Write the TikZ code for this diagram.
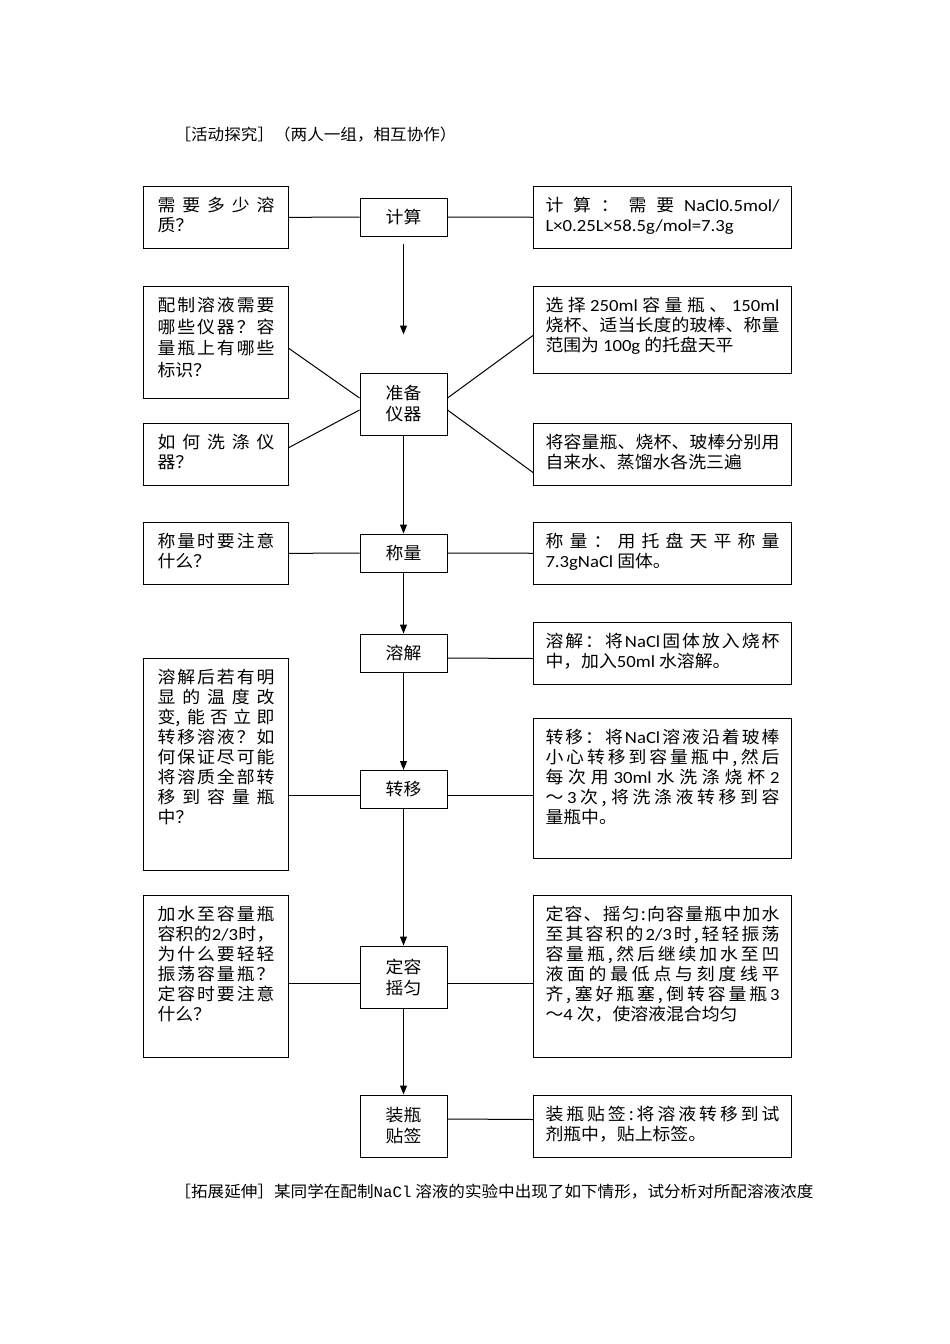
\documentclass[tikz,border=0pt]{standalone}
\usepackage{fontspec}
\setmainfont{Noto Sans CJK SC}[FakeStretch=1.05]
\newfontfamily\latfont{Carlito}[FakeStretch=1.1]
\newfontfamily\monofont{Liberation Mono}
\usetikzlibrary{arrows.meta,calc}

\newcommand\lat[1]{{\latfont #1}}
\newcommand\jl[1]{\makebox[\linewidth][s]{\spaceskip=0pt plus 1fil\relax\xspaceskip=\spaceskip\relax #1}}
\newcommand\boxtext[3]{\parbox[c][#1][t]{#2}{\rule{0pt}{14pt}#3}}

\begin{document}
\begin{tikzpicture}[x=1pt, y=-1pt, >={Triangle[length=9pt,width=7pt]},
        stepbox/.style={draw, line width=1pt, minimum width=87pt, align=center, inner sep=0pt, font=\fontsize{17}{21}\selectfont},
        qbox/.style={draw, line width=1pt, anchor=north west, inner xsep=14pt, inner ysep=11pt, font=\fontsize{17}{20}\selectfont},
        abox/.style={qbox, inner xsep=12pt},
        link/.style={line width=1pt}]
        \useasboundingbox (0,0) rectangle (950,1344);

        % Heading and footer
        \node[anchor=west, font=\fontsize{15.8}{18}\selectfont] (title) at (171,135) {［活动探究］（两人一组，相互协作）};
        \node[anchor=west, font=\fontsize{15.8}{18}\selectfont] (extend) at (171,1192) {［拓展延伸］某同学在配制{\monofont NaCl} 溶液的实验中出现了如下情形，试分析对所配溶液浓度};

        % Steps
        \node[stepbox, minimum height=38pt] (calc) at (403.5,217) {计算};
        \node[stepbox, minimum height=62pt] (prep) at (403.5,404) {准备\\仪器};
        \node[stepbox, minimum height=38pt] (weigh) at (403.5,553) {称量};
        \node[stepbox, minimum height=38pt] (dissolve) at (403.5,653) {溶解};
        \node[stepbox, minimum height=38pt] (move) at (403.5,789.5) {转移};
        \node[stepbox, minimum height=62pt] (fix) at (403.5,977) {定容\\摇匀};
        \node[stepbox, minimum height=62pt] (bottle) at (403.5,1126) {装瓶\\贴签};

        % Questions
        \node[qbox] (qcalc) at (143,186) {\boxtext{40pt}{117pt}{\jl{需 要 多 少 溶}\\质？}};
        \node[qbox] (qprep) at (143,286) {\boxtext{90pt}{117pt}{\fontsize{17}{21.5}\selectfont\jl{配 制 溶 液 需 要}\\\jl{哪 些 仪 器 ？ 容}\\\jl{量 瓶 上 有 哪 些}\\标识？}};
        \node[qbox] (qwash) at (143,423) {\boxtext{40pt}{117pt}{\jl{如 何 洗 涤 仪}\\器？}};
        \node[qbox] (qweigh) at (143,522) {\boxtext{40pt}{117pt}{\jl{称 量 时 要 注 意}\\什么？}};
        \node[qbox] (qmove) at (143,658) {\boxtext{190pt}{117pt}{\jl{溶 解 后 若 有 明}\\\jl{显 的 温 度 改}\\\jl{变, 能 否 立 即}\\\jl{转 移 溶 液 ？ 如}\\\jl{何 保 证 尽 可 能}\\\jl{将 溶 质 全 部 转}\\\jl{移 到 容 量 瓶}\\中？}};
        \node[qbox] (qfix) at (143,895) {\boxtext{140pt}{117pt}{\jl{加 水 至 容 量 瓶}\\\jl{容 积 的 \lat{2/3} 时 ，}\\\jl{为 什 么 要 轻 轻}\\\jl{振 荡 容 量 瓶 ？}\\\jl{定 容 时 要 注 意}\\什么？}};

        % Answers
        \node[abox] (acalc) at (533,186) {\boxtext{40pt}{234pt}{\jl{计 算 ： 需 要 \lat{NaCl0.5mol/}}\\\lat{L×0.25L×58.5g/mol=7.3g}}};
        \node[abox] (aprep) at (533,286) {\boxtext{65pt}{234pt}{\jl{选 择 \lat{250ml} 容 量 瓶 、 \lat{150ml}}\\\jl{烧 杯 、 适 当 长 度 的 玻 棒 、 称 量}\\范围为 \lat{100g} 的托盘天平}};
        \node[abox] (awash) at (533,423) {\boxtext{40pt}{234pt}{\jl{将 容 量 瓶 、 烧 杯 、 玻 棒 分 别 用}\\自来水、蒸馏水各洗三遍}};
        \node[abox] (aweigh) at (533,522) {\boxtext{40pt}{234pt}{\jl{称 量 ： 用 托 盘 天 平 称 量}\\\lat{7.3gNaCl} 固体。}};
        \node[abox] (adissolve) at (533,622) {\boxtext{40pt}{234pt}{\jl{溶 解 ： 将 \lat{NaCl} 固 体 放 入 烧 杯}\\中，加入\lat{50ml} 水溶解。}};
        \node[abox] (amove) at (533,718) {\boxtext{118pt}{234pt}{\jl{转 移 ： 将 \lat{NaCl} 溶 液 沿 着 玻 棒}\\\jl{小 心 转 移 到 容 量 瓶 中 , 然 后}\\\jl{每 次 用 \lat{30ml} 水 洗 涤 烧 杯 \lat{2}}\\\jl{～ \lat{3} 次 , 将 洗 涤 液 转 移 到 容}\\量瓶中。}};
        \node[abox] (afix) at (533,895) {\boxtext{140pt}{234pt}{\jl{定 容 、 摇 匀 : 向 容 量 瓶 中 加 水}\\\jl{至 其 容 积 的 \lat{2/3} 时 , 轻 轻 振 荡}\\\jl{容 量 瓶 , 然 后 继 续 加 水 至 凹}\\\jl{液 面 的 最 低 点 与 刻 度 线 平}\\\jl{齐 , 塞 好 瓶 塞 , 倒 转 容 量 瓶 \lat{3}}\\～\lat{4} 次，使溶液混合均匀}};
        \node[abox] (abottle) at (533,1095) {\boxtext{40pt}{234pt}{\jl{装 瓶 贴 签 : 将 溶 液 转 移 到 试}\\剂瓶中，贴上标签。}};

        % Links
        \draw[link] (qcalc) -- (calc);
        \draw[link] (calc) -- (acalc);
        \draw[link, ->] ($(calc.south)+(0,7)$) -- ($(prep.north)+(0,-38)$);
        \draw[link] ($(qprep.east)+(0,6)$) -- ($(prep.west)+(0,-6)$);
        \draw[link] ($(qwash.east)+(0,-7)$) -- ($(prep.west)+(0,6)$);
        \draw[link] ($(prep.east)+(0,-6)$) -- ($(aprep.west)+(0,5.5)$);
        \draw[link] ($(prep.east)+(0,6)$) -- ($(awash.west)+(0,18)$);
        \draw[link, ->] (prep) -- (weigh);
        \draw[link] (qweigh) -- (weigh);
        \draw[link] (weigh) -- (aweigh);
        \draw[link, ->] (weigh) -- (dissolve);
        \draw[link] ($(dissolve.east)+(0,5)$) -- ($(adissolve.west)+(0,5)$);
        \draw[link, ->] (dissolve) -- (move);
        \draw[link] ($(qmove.east|-move.west)+(0,6)$) -- ($(move.west)+(0,6)$);
        \draw[link] ($(move.east)+(0,6)$) -- ($(amove.west|-move.east)+(0,6)$);
        \draw[link, ->] (move) -- (fix);
        \draw[link] ($(qfix.east|-fix.west)+(0,6)$) -- ($(fix.west)+(0,6)$);
        \draw[link] ($(fix.east)+(0,6)$) -- ($(afix.west|-fix.east)+(0,6)$);
        \draw[link, ->] (fix) -- (bottle);
        \draw[link] ($(bottle.east)+(0,-7)$) -- ($(abottle.west)+(0,-7)$);
    \end{tikzpicture}
\end{document}
